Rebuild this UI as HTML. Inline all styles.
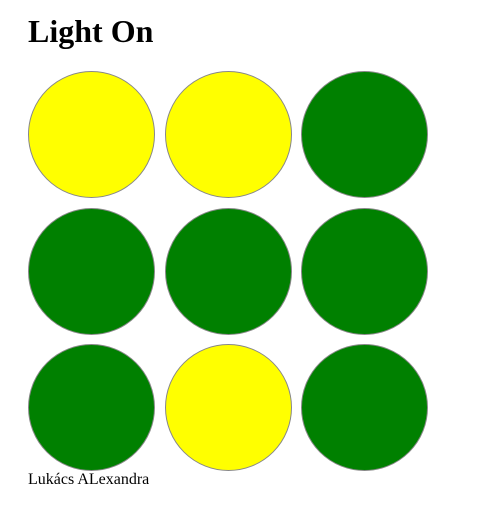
<!DOCTYPE html>
<html><head><meta charset="utf-8"><style>
body{margin:0;background:#fff;font-family:"Liberation Serif",serif;}
h1{position:absolute;left:28px;top:13px;margin:0;font-size:32px;font-weight:bold;line-height:37px;}
.c{position:absolute;width:125px;height:125px;border:1px solid #888;border-radius:50%;}
.y{background:#ffff00}.g{background:#008000}
.f{position:absolute;left:28px;top:471px;font-size:16px;line-height:18px;}
</style></head><body>
<h1>Light On</h1>
<div class="c y" style="left:28px;top:71px"></div>
<div class="c y" style="left:165px;top:71px"></div>
<div class="c g" style="left:301px;top:71px"></div>
<div class="c g" style="left:28px;top:208px"></div>
<div class="c g" style="left:165px;top:208px"></div>
<div class="c g" style="left:301px;top:208px"></div>
<div class="c g" style="left:28px;top:344px"></div>
<div class="c y" style="left:165px;top:344px"></div>
<div class="c g" style="left:301px;top:344px"></div>
<div class="f">Lukács ALexandra</div>
</body></html>
